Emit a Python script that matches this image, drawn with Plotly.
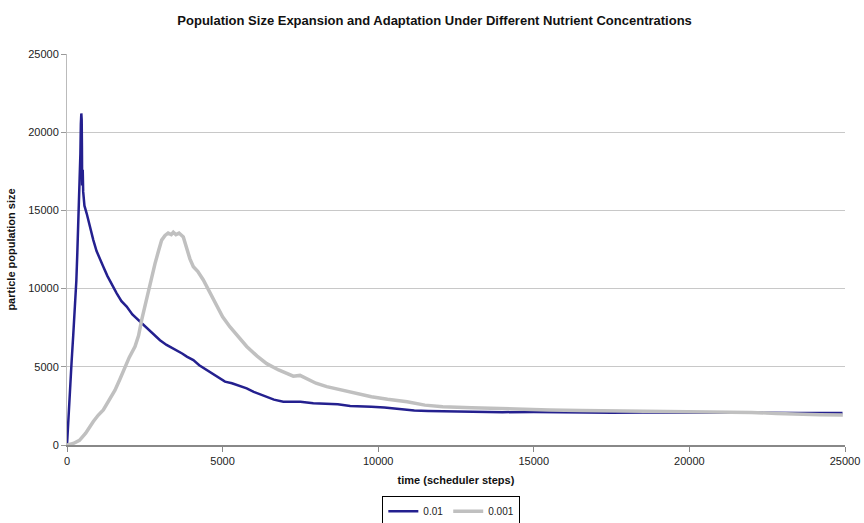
import plotly.graph_objects as go

# Series 0.01
blue_x = [0, 40, 90, 150, 200, 257, 300, 332, 360, 386, 410, 430, 445, 460, 472, 480, 487, 495, 505, 520,
          560, 633, 700, 780, 846, 950, 1050, 1167, 1300, 1450, 1597, 1750, 1918, 2100, 2346, 2600, 2800,
          2988, 3200, 3350, 3525, 3700, 3850, 4060, 4250, 4489, 4700, 4900, 5077, 5300, 5550, 5774, 6000,
          6200, 6417, 6650, 6950, 7200, 7500, 7915, 8300, 8700, 9100, 9415, 9782, 10200, 10600, 11160,
          11600, 12200, 13217, 14000, 15000, 16000, 16660, 17500, 18500, 19300, 20100, 21000, 22000,
          23000, 23500, 24200, 24920]
blue_y = [0, 1700, 3500, 5400, 7000, 8800, 10500, 12300, 13800, 15200, 17000, 18600, 20500, 21200, 20800,
          19000, 16600, 18000, 17600, 16200, 15300, 14800, 14200, 13600, 13100, 12400, 11900, 11400, 10800,
          10200, 9700, 9200, 8850, 8350, 7900, 7400, 7050, 6700, 6400, 6250, 6050, 5850, 5650, 5430, 5100,
          4800, 4500, 4250, 4050, 3950, 3800, 3620, 3400, 3250, 3090, 2900, 2770, 2750, 2760, 2670, 2640,
          2600, 2500, 2450, 2440, 2400, 2330, 2200, 2180, 2150, 2130, 2100, 2110, 2080, 2070, 2060, 2080,
          2060, 2065, 2060, 2070, 2030, 2040, 2050, 2040]

# Series 0.001
gray_x = [0, 203, 400, 600, 846, 1000, 1167, 1350, 1542, 1700, 1864, 2000, 2185, 2300, 2400, 2500, 2614,
          2720, 2828, 2940, 3042, 3150, 3250, 3350, 3416, 3500, 3600, 3737, 3850, 3950, 4060, 4200, 4380,
          4600, 4810, 5000, 5238, 5500, 5774, 6100, 6417, 6800, 7272, 7487, 8000, 8345, 8634, 9000, 9415,
          9782, 10300, 10930, 11500, 12077, 13000, 14372, 15500, 16500, 17815, 19000, 20000, 21260, 22000,
          22800, 23550, 24200, 24930]
gray_y = [0, 100, 300, 750, 1500, 1900, 2240, 2900, 3500, 4200, 5000, 5600, 6300, 7000, 8000, 8900, 9700,
          10700, 11600, 12400, 13100, 13400, 13550, 13450, 13600, 13450, 13550, 13300, 12600, 11900, 11400,
          11100, 10550, 9700, 8850, 8200, 7550, 6900, 6300, 5700, 5200, 4800, 4400, 4450, 3950, 3730, 3600,
          3400, 3270, 3090, 2920, 2770, 2550, 2450, 2380, 2280, 2240, 2200, 2175, 2150, 2150, 2130, 2080,
          2020, 1960, 1940, 1920]

axis_ticks = [0, 5000, 10000, 15000, 20000, 25000]

FONT = "Liberation Sans, Arial, sans-serif"

fig = go.Figure()
fig.add_trace(go.Scatter(x=blue_x, y=blue_y, mode="lines", name="0.01",
                         line=dict(color="#24208f", width=2.5)))
fig.add_trace(go.Scatter(x=gray_x, y=gray_y, mode="lines", name="0.001",
                         line=dict(color="#c0c0c0", width=3.5)))

fig.update_layout(
    width=864, height=523,
    margin=dict(l=67, r=19, t=54, b=78, autoexpand=False),
    paper_bgcolor="white", plot_bgcolor="white",
    font=dict(family=FONT, size=11, color="#222"),
    title=dict(text="<b>Population Size Expansion and Adaptation Under Different Nutrient Concentrations</b>",
               x=0.503, xanchor="center", y=1 - 20 / 523, yanchor="middle",
               font=dict(size=13, color="#111", family=FONT)),
    showlegend=True,
    legend=dict(orientation="h", x=0.494, xanchor="center", y=-0.13, yanchor="top",
                bordercolor="black", borderwidth=1, bgcolor="white",
                font=dict(size=10, color="#222"), itemwidth=30, tracegroupgap=0),
    xaxis=dict(range=[0, 25000], tickvals=axis_ticks, ticktext=[str(v) for v in axis_ticks],
               automargin=False,
               showgrid=False, zeroline=False, showline=True, linecolor="#888", linewidth=2,
               ticks="outside", ticklen=5, tickcolor="#888", tickwidth=1,
               title=dict(text="<b>time (scheduler steps)</b>", standoff=10,
                          font=dict(size=11, color="#111"))),
    yaxis=dict(range=[0, 25000], tickvals=axis_ticks, ticktext=[str(v) for v in axis_ticks],
               automargin=False,
               showgrid=True, gridcolor="#c8c8c8", gridwidth=1, zeroline=False,
               showline=True, linecolor="#bbb", linewidth=1,
               ticks="outside", ticklen=5, tickcolor="#999",
               title=dict(text="<b>particle population size</b>", standoff=10,
                          font=dict(size=11, color="#111"))),
)

fig.write_html("out.html")
